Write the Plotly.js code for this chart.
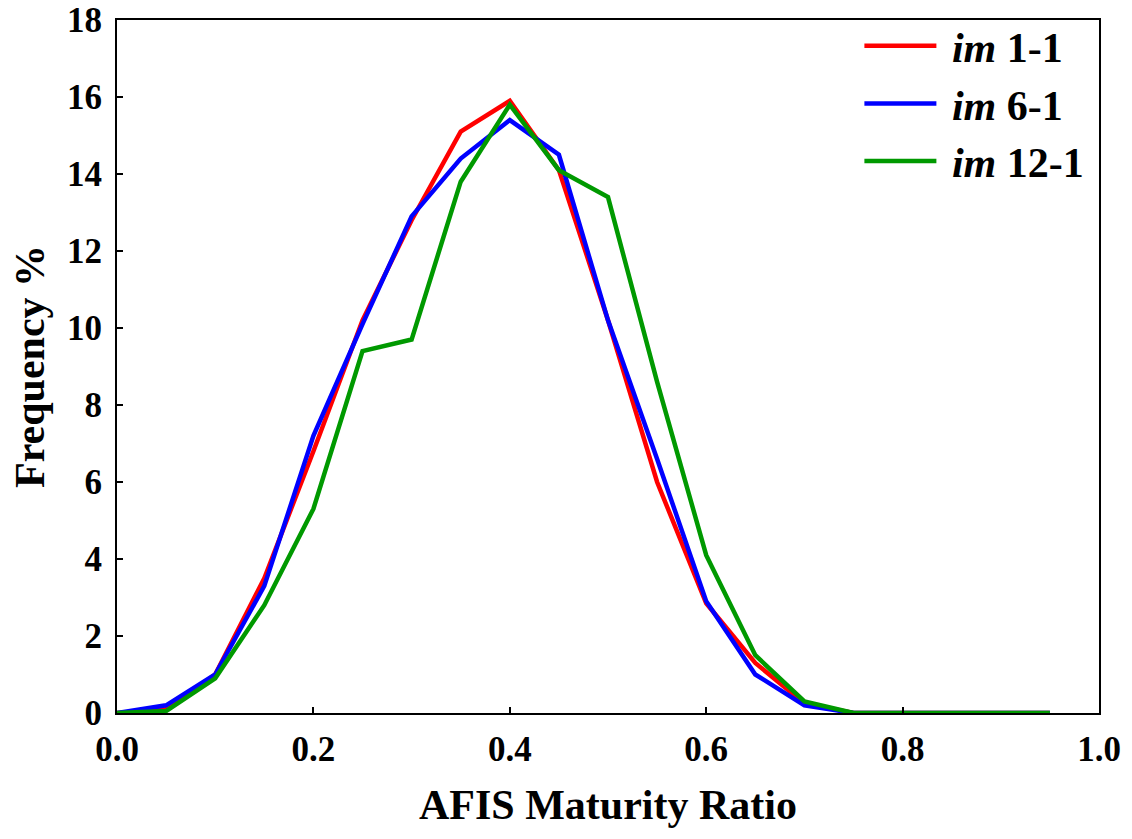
<!DOCTYPE html>
<html>
<head>
<meta charset="utf-8">
<script src="https://cdn.plot.ly/plotly-3.0.1.min.js"></script>
<style>html,body{margin:0;padding:0;background:#fff;}#chart{width:1132px;height:839px;}</style>
</head>
<body>
<div id="chart"></div>
<script>
const maturity = [0.0, 0.05, 0.1, 0.15, 0.2, 0.25, 0.3, 0.35, 0.4, 0.45, 0.5, 0.55, 0.6, 0.65, 0.7, 0.75, 0.8, 0.85, 0.9, 0.95];
const im1_1  = [0, 0.1, 1.0, 3.5, 6.8, 10.2, 12.8, 15.1, 15.9, 14.1, 10.2, 6.0, 2.85, 1.3, 0.25, 0, 0, 0, 0, 0];
const im6_1  = [0, 0.2, 1.0, 3.3, 7.2, 10.1, 12.9, 14.4, 15.4, 14.5, 10.2, 6.6, 2.9, 1.0, 0.2, 0, 0, 0, 0, 0];
const im12_1 = [0, 0.05, 0.9, 2.8, 5.3, 9.4, 9.7, 13.8, 15.8, 14.1, 13.4, 8.6, 4.1, 1.5, 0.3, 0, 0, 0, 0, 0];
const seriesNames = ['&nbsp;<i>im</i> 1-1', '&nbsp;<i>im</i> 6-1', '&nbsp;<i>im</i> 12-1'];
const seriesColors = ['#ff0000', '#0000ff', '#009900'];
const xTickVals = [0.0, 0.2, 0.4, 0.6, 0.8, 1.0];
const yTickVals = [0, 2, 4, 6, 8, 10, 12, 14, 16, 18];

const font = 'Liberation Serif, Times New Roman, serif';
const allY = [im1_1, im6_1, im12_1];
const traces = allY.map((ys, i) => ({
  type: 'scatter', mode: 'lines', x: maturity, y: ys, name: seriesNames[i],
  line: {color: seriesColors[i], width: 4.5}
}));

const layout = {
  width: 1132, height: 839,
  margin: {l: 117, r: 33, t: 20, b: 126},
  paper_bgcolor: '#fff', plot_bgcolor: '#fff',
  font: {family: font, color: '#000', size: 35, weight: 'bold'},
  showlegend: true,
  legend: {x: 0.756, y: 1.0115, xanchor: 'left', yanchor: 'top', bgcolor: 'rgba(0,0,0,0)',
           font: {family: font, size: 42, color: '#000', weight: 'bold'}, tracegroupgap: 0, itemwidth: 72},
  xaxis: {range: [0, 1], tickvals: xTickVals, ticktext: xTickVals.map(v => v.toFixed(1)),
          ticks: 'inside', ticklen: 6, tickwidth: 2, tickcolor: '#000', ticklabelstandoff: 4,
          showline: true, linecolor: '#000', linewidth: 2, mirror: true, showgrid: false, zeroline: false,
          tickfont: {family: font, size: 35, weight: 'bold'},
          title: {text: 'AFIS Maturity Ratio', font: {family: font, size: 42, weight: 'bold'}, standoff: 22}},
  yaxis: {range: [0, 18], tickvals: yTickVals,
          ticks: 'inside', ticklen: 6, tickwidth: 2, tickcolor: '#000', ticklabelstandoff: 6,
          showline: true, linecolor: '#000', linewidth: 2, mirror: true, showgrid: false, zeroline: false,
          tickfont: {family: font, size: 35, weight: 'bold'},
          title: {text: 'Frequency %', font: {family: font, size: 42, weight: 'bold'}, standoff: 9}}
};
Plotly.newPlot('chart', traces, layout, {displayModeBar: false, staticPlot: true});
</script>
</body>
</html>
